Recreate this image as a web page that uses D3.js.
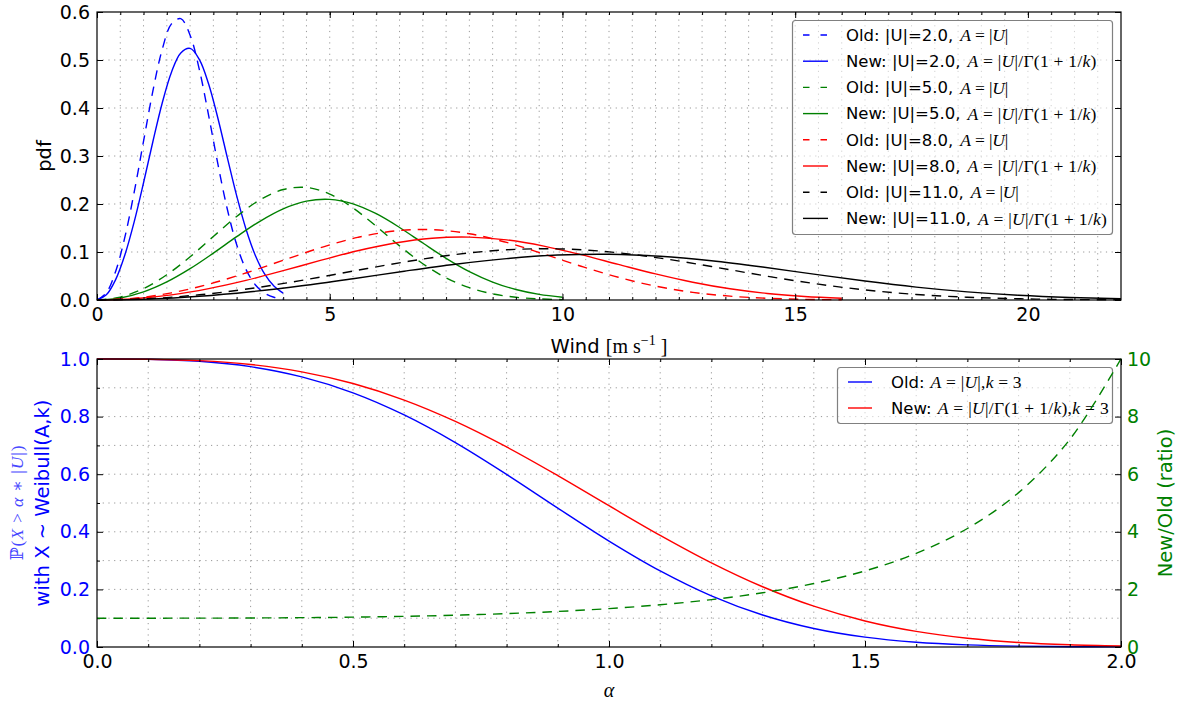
<!DOCTYPE html>
<html lang="en">
<head>
    <meta charset="UTF-8">
    <title>Weibull wind pdf, old vs new scale</title>
    <script src="https://d3js.org/d3.v7.min.js"></script>
    <style>
        body { margin: 0; background: #fff; }
        svg text { font-family: "DejaVu Sans", sans-serif; white-space: pre; }
        .math { font-family: "Liberation Serif", "DejaVu Serif", serif; }
    </style>
</head>
<body>
<script>
    var w = 1182;
    var h = 704;

    // ---- top panel: wind pdfs ----
    var speeds = [2, 5, 8, 11];
    var colors = ["#0000ff", "#008000", "#ff0000", "#000000"];

    var windU2 = [0, 0.2, 0.4, 0.6, 0.8, 1.0, 1.2, 1.4, 1.6, 1.8, 2.0, 2.2, 2.4, 2.6, 2.8, 3.0, 3.2, 3.4, 3.6, 3.8, 4.0];
    var windU5 = [0, 0.5, 1.0, 1.5, 2.0, 2.5, 3.0, 3.5, 4.0, 4.5, 5.0, 5.5, 6.0, 6.5, 7.0, 7.5, 8.0, 8.5, 9.0, 9.5, 10.0];
    var windU8 = [0, 0.8, 1.6, 2.4, 3.2, 4.0, 4.8, 5.6, 6.4, 7.2, 8.0, 8.8, 9.6, 10.4, 11.2, 12.0, 12.8, 13.6, 14.4, 15.2, 16.0];
    var windU11 = [0, 1.1, 2.2, 3.3, 4.4, 5.5, 6.6, 7.7, 8.8, 9.9, 11.0, 12.1, 13.2, 14.3, 15.4, 16.5, 17.6, 18.7, 19.8, 20.9, 22.0];

    var oldPdfU2 = [0, 0.0150, 0.0595, 0.1314, 0.2251, 0.3309, 0.4351, 0.5216, 0.5753, 0.5861, 0.5518, 0.4796, 0.3837, 0.2818, 0.1890, 0.1155, 0.0639, 0.0319, 0.0143, 0.0057, 0.0020];
    var newPdfU2 = [0, 0.0107, 0.0425, 0.0943, 0.1633, 0.2443, 0.3297, 0.4100, 0.4747, 0.5148, 0.5241, 0.5009, 0.4494, 0.3776, 0.2966, 0.2173, 0.1480, 0.0934, 0.0544, 0.0292, 0.0143];
    var oldPdfU5 = [0, 0.0060, 0.0238, 0.0526, 0.0900, 0.1324, 0.1740, 0.2086, 0.2301, 0.2345, 0.2207, 0.1918, 0.1535, 0.1127, 0.0756, 0.0462, 0.0256, 0.0127, 0.0057, 0.0023, 0.0008];
    var newPdfU5 = [0, 0.0043, 0.0170, 0.0377, 0.0653, 0.0977, 0.1319, 0.1640, 0.1899, 0.2059, 0.2096, 0.2004, 0.1797, 0.1511, 0.1187, 0.0869, 0.0592, 0.0374, 0.0218, 0.0117, 0.0057];
    var oldPdfU8 = [0, 0.0037, 0.0149, 0.0329, 0.0563, 0.0827, 0.1088, 0.1304, 0.1438, 0.1465, 0.1380, 0.1199, 0.0959, 0.0704, 0.0473, 0.0289, 0.0160, 0.0080, 0.0036, 0.0014, 0.0005];
    var newPdfU8 = [0, 0.0027, 0.0106, 0.0236, 0.0408, 0.0611, 0.0824, 0.1025, 0.1187, 0.1287, 0.1310, 0.1252, 0.1123, 0.0944, 0.0742, 0.0543, 0.0370, 0.0233, 0.0136, 0.0073, 0.0036];
    var oldPdfU11 = [0, 0.0027, 0.0108, 0.0239, 0.0409, 0.0602, 0.0791, 0.0948, 0.1046, 0.1066, 0.1003, 0.0872, 0.0698, 0.0512, 0.0344, 0.0210, 0.0116, 0.0058, 0.0026, 0.0010, 0.0004];
    var newPdfU11 = [0, 0.0019, 0.0077, 0.0172, 0.0297, 0.0444, 0.0600, 0.0745, 0.0863, 0.0936, 0.0953, 0.0911, 0.0817, 0.0687, 0.0539, 0.0395, 0.0269, 0.0170, 0.0099, 0.0053, 0.0026];

    var windXs = [windU2, windU5, windU8, windU11];
    var oldPdfs = [oldPdfU2, oldPdfU5, oldPdfU8, oldPdfU11];
    var newPdfs = [newPdfU2, newPdfU5, newPdfU8, newPdfU11];

    var topXTicks = [0, 5, 10, 15, 20];
    var topYTicks = [0, 0.1, 0.2, 0.3, 0.4, 0.5, 0.6];

    // ---- bottom panel: exceedance probability and ratio ----
    var alphas = [0, 0.1, 0.2, 0.3, 0.4, 0.5, 0.6, 0.7, 0.8, 0.9, 1.0, 1.1, 1.2, 1.3, 1.4, 1.5, 1.6, 1.7, 1.8, 1.9, 2.0];
    var probOld = [1, 0.9990, 0.9920, 0.9734, 0.9380, 0.8825, 0.8057, 0.7097, 0.5993, 0.4824, 0.3679, 0.2642, 0.1776, 0.1111, 0.0643, 0.0342, 0.0166, 0.0074, 0.0029, 0.0011, 0.0003];
    var probNew = [1, 0.9993, 0.9943, 0.9810, 0.9555, 0.9148, 0.8574, 0.7833, 0.6945, 0.5951, 0.4906, 0.3876, 0.2922, 0.2092, 0.1417, 0.0904, 0.0541, 0.0303, 0.0157, 0.0076, 0.0034];
    var ratioNewOld = [1, 1.0003, 1.0023, 1.0078, 1.0186, 1.0366, 1.0642, 1.1038, 1.1588, 1.2336, 1.3337, 1.4670, 1.6447, 1.8824, 2.2036, 2.6426, 3.2522, 4.1148, 5.3612, 7.2063, 10.008];

    var botXTicks = [0, 0.5, 1.0, 1.5, 2.0];
    var botYTicks = [0, 0.2, 0.4, 0.6, 0.8, 1.0];
    var ratioTicks = [0, 2, 4, 6, 8, 10];

    // math pieces: [text, italic]
    var mathOld = [["A", 1], [" = ", 0], ["|", 0], ["U", 1], ["|", 0]];
    var mathNew = mathOld.concat([["/Γ(1 + 1/", 0], ["k", 1], [")", 0]]);
    var mathK3 = [[",", 0], ["k", 1], [" = 3", 0]];

    var tickSize = 19;
    var labelSize = 19.5;
    var legendSize = 16.5;
    var mathSize = 17.5;

    var svg = d3.select("body")
        .append("svg")
        .attr("width", w)
        .attr("height", h);

    var x1 = d3.scaleLinear().domain([0, 22]).range([97, 1121]);
    var y1 = d3.scaleLinear().domain([0, 0.6]).range([300, 12]);
    var x2 = d3.scaleLinear().domain([0, 2]).range([97, 1121]);
    var y2 = d3.scaleLinear().domain([0, 1]).range([647, 359]);
    var y2r = d3.scaleLinear().domain([0, 10]).range([647, 359]);

    var dashMain = "9.5,7";

    function addMath(sel, parts, size) {
        parts.forEach(function(p) {
            sel.append("tspan")
                .attr("font-style", p[1] ? "italic" : "normal")
                .text(p[0]);
        });
        sel.attr("class", "math").attr("font-size", size);
        return sel;
    }

    function grid(g, xs, ys, xScale, yScale) {
        var x0 = xScale.range()[0], xEnd = xScale.range()[1];
        var y0 = yScale.range()[0], yEnd = yScale.range()[1];
        g.selectAll(".gv").data(xs).enter().append("line")
            .attr("x1", function(d) { return xScale(d); })
            .attr("x2", function(d) { return xScale(d); })
            .attr("y1", y0).attr("y2", yEnd)
            .attr("stroke", "#999").attr("stroke-width", 1).attr("stroke-dasharray", "1.2,4.5");
        g.selectAll(".gh").data(ys).enter().append("line")
            .attr("y1", function(d) { return yScale(d); })
            .attr("y2", function(d) { return yScale(d); })
            .attr("x1", x0).attr("x2", xEnd)
            .attr("stroke", "#999").attr("stroke-width", 1).attr("stroke-dasharray", "1.2,4.5");
    }

    function styleAxis(sel, color) {
        sel.attr("font-family", null).attr("font-size", null);
        sel.select(".domain").remove();
        sel.selectAll("line").attr("stroke", "#000");
        sel.selectAll("text").attr("fill", color).attr("font-size", tickSize);
    }

    // ================= TOP PANEL =================
    var topPanel = svg.append("g");

    grid(topPanel.append("g"), d3.range(0.5, 22, 0.5), [0.1, 0.2, 0.3, 0.4, 0.5], x1, y1);

    var pdfLine = d3.line()
        .x(function(d) { return x1(d[0]); })
        .y(function(d) { return y1(d[1]); })
        .curve(d3.curveCatmullRom.alpha(0.5));

    speeds.forEach(function(u, i) {
        var xs = windXs[i];
        topPanel.append("path")
            .datum(xs.map(function(x, j) { return [x, oldPdfs[i][j]]; }))
            .attr("d", pdfLine)
            .attr("fill", "none")
            .attr("stroke", colors[i])
            .attr("stroke-width", 1.4)
            .attr("stroke-dasharray", dashMain);
        topPanel.append("path")
            .datum(xs.map(function(x, j) { return [x, newPdfs[i][j]]; }))
            .attr("d", pdfLine)
            .attr("fill", "none")
            .attr("stroke", colors[i])
            .attr("stroke-width", 1.4);
    });

    // axes (ticks pointing inward, all four sides)
    topPanel.append("g").attr("transform", "translate(0,300)")
        .call(d3.axisBottom(x1).tickValues(topXTicks).tickSize(-6).tickPadding(8).tickFormat(d3.format("d")))
        .call(styleAxis, "#000");
    topPanel.append("g").attr("transform", "translate(0,300)")
        .call(d3.axisBottom(x1).tickValues(d3.range(0.5, 22, 0.5)).tickSize(-3).tickFormat(""))
        .call(styleAxis, "#000");
    topPanel.append("g").attr("transform", "translate(0,12)")
        .call(d3.axisTop(x1).tickValues(topXTicks).tickSize(-6).tickFormat(""))
        .call(styleAxis, "#000");
    topPanel.append("g").attr("transform", "translate(0,12)")
        .call(d3.axisTop(x1).tickValues(d3.range(0.5, 22, 0.5)).tickSize(-3).tickFormat(""))
        .call(styleAxis, "#000");
    topPanel.append("g").attr("transform", "translate(97,0)")
        .call(d3.axisLeft(y1).tickValues(topYTicks).tickSize(-6).tickPadding(7).tickFormat(d3.format(".1f")))
        .call(styleAxis, "#000");
    topPanel.append("g").attr("transform", "translate(1121,0)")
        .call(d3.axisRight(y1).tickValues(topYTicks).tickSize(-6).tickFormat(""))
        .call(styleAxis, "#000");

    topPanel.append("rect")
        .attr("x", 97).attr("y", 12).attr("width", 1024).attr("height", 288)
        .attr("fill", "none").attr("stroke", "#000").attr("stroke-width", 1.2);

    topPanel.append("text")
        .attr("transform", "translate(51,156) rotate(-90)")
        .attr("text-anchor", "middle")
        .attr("font-size", labelSize)
        .text("pdf");

    var windLabel = topPanel.append("text")
        .attr("x", 609).attr("y", 353)
        .attr("text-anchor", "middle")
        .attr("font-size", labelSize);
    windLabel.append("tspan").text("Wind ");
    windLabel.append("tspan").attr("class", "math").attr("font-size", 20).text("[m s");
    windLabel.append("tspan").attr("class", "math").attr("font-size", 14).attr("dy", -8).text("−1");
    windLabel.append("tspan").attr("class", "math").attr("font-size", 20).attr("dy", 8).text(" ]");

    // legend
    var legTop = topPanel.append("g");
    legTop.append("rect")
        .attr("x", 792.5).attr("y", 20.5).attr("width", 320).attr("height", 214).attr("rx", 3)
        .attr("fill", "#fff").attr("fill-opacity", 0.55)
        .attr("stroke", "#808080").attr("stroke-width", 1.2);

    speeds.forEach(function(u, i) {
        ["Old", "New"].forEach(function(kind, j) {
            var y = 35 + (2 * i + j) * 26.2;
            legTop.append("line")
                .attr("x1", 803).attr("x2", 828).attr("y1", y).attr("y2", y)
                .attr("stroke", colors[i]).attr("stroke-width", 1.4)
                .attr("stroke-dasharray", j === 0 ? "6.5,11" : null);
            var t = legTop.append("text")
                .attr("x", 846).attr("y", y).attr("dy", "0.35em")
                .attr("font-size", legendSize)
                .text(kind + ": |U|=" + d3.format(".1f")(u) + ",");
            var tw = t.node().getComputedTextLength();
            var m = legTop.append("text")
                .attr("x", 846 + tw + 7).attr("y", y).attr("dy", "0.35em");
            addMath(m, j === 0 ? mathOld : mathNew, mathSize);
            m.attr("textLength", j === 0 ? 48 : 129).attr("lengthAdjust", "spacing");
        });
    });

    // ================= BOTTOM PANEL =================
    var botPanel = svg.append("g");

    grid(botPanel.append("g"), d3.range(0.1, 2, 0.1), d3.range(0.1, 1, 0.1), x2, y2);

    var probLine = d3.line()
        .x(function(d) { return x2(d[0]); })
        .y(function(d) { return y2(d[1]); })
        .curve(d3.curveCatmullRom.alpha(0.5));
    var ratioLine = d3.line()
        .x(function(d) { return x2(d[0]); })
        .y(function(d) { return y2r(d[1]); })
        .curve(d3.curveCatmullRom.alpha(0.5));

    botPanel.append("path")
        .datum(alphas.map(function(a, j) { return [a, probOld[j]]; }))
        .attr("d", probLine)
        .attr("fill", "none").attr("stroke", "#0000ff").attr("stroke-width", 1.4);
    botPanel.append("path")
        .datum(alphas.map(function(a, j) { return [a, probNew[j]]; }))
        .attr("d", probLine)
        .attr("fill", "none").attr("stroke", "#ff0000").attr("stroke-width", 1.4);

    botPanel.append("g").attr("transform", "translate(0,647)")
        .call(d3.axisBottom(x2).tickValues(botXTicks).tickSize(-6).tickPadding(8).tickFormat(d3.format(".1f")))
        .call(styleAxis, "#000");
    botPanel.append("g").attr("transform", "translate(0,647)")
        .call(d3.axisBottom(x2).tickValues(d3.range(0.1, 2, 0.1)).tickSize(-3).tickFormat(""))
        .call(styleAxis, "#000");
    botPanel.append("g").attr("transform", "translate(0,359)")
        .call(d3.axisTop(x2).tickValues(botXTicks).tickSize(-6).tickFormat(""))
        .call(styleAxis, "#000");
    botPanel.append("g").attr("transform", "translate(0,359)")
        .call(d3.axisTop(x2).tickValues(d3.range(0.1, 2, 0.1)).tickSize(-3).tickFormat(""))
        .call(styleAxis, "#000");
    botPanel.append("g").attr("transform", "translate(97,0)")
        .call(d3.axisLeft(y2).tickValues(botYTicks).tickSize(-6).tickPadding(7).tickFormat(d3.format(".1f")))
        .call(styleAxis, "#0000ff");
    botPanel.append("g").attr("transform", "translate(97,0)")
        .call(d3.axisLeft(y2).tickValues(d3.range(0.1, 1, 0.2)).tickSize(-3).tickFormat(""))
        .call(styleAxis, "#000");
    botPanel.append("g").attr("transform", "translate(1121,0)")
        .call(d3.axisRight(y2r).tickValues(ratioTicks).tickSize(-6).tickPadding(6).tickFormat(d3.format("d")))
        .call(styleAxis, "#008000");

    // legend (drawn below the ratio curve, as in the twin axes)
    var legBot = botPanel.append("g");
    legBot.append("rect")
        .attr("x", 837.5).attr("y", 367.5).attr("width", 275).attr("height", 56).attr("rx", 3)
        .attr("fill", "#fff").attr("fill-opacity", 0.55)
        .attr("stroke", "#808080").attr("stroke-width", 1.2);
    [["Old:", "#0000ff", mathOld.concat(mathK3), 91], ["New:", "#ff0000", mathNew.concat(mathK3), 171]].forEach(function(e, j) {
        var y = 382 + j * 26;
        legBot.append("line")
            .attr("x1", 848).attr("x2", 872).attr("y1", y).attr("y2", y)
            .attr("stroke", e[1]).attr("stroke-width", 1.4);
        var t = legBot.append("text")
            .attr("x", 891).attr("y", y).attr("dy", "0.35em")
            .attr("font-size", legendSize)
            .text(e[0]);
        var tw = t.node().getComputedTextLength();
        var m = legBot.append("text")
            .attr("x", 891 + tw + 6).attr("y", y).attr("dy", "0.35em");
        addMath(m, e[2], mathSize);
        m.attr("textLength", e[3]).attr("lengthAdjust", "spacing");
    });

    botPanel.append("path")
        .datum(alphas.map(function(a, j) { return [a, ratioNewOld[j]]; }))
        .attr("d", ratioLine)
        .attr("fill", "none").attr("stroke", "#008000").attr("stroke-width", 1.4)
        .attr("stroke-dasharray", dashMain);

    botPanel.append("rect")
        .attr("x", 97).attr("y", 359).attr("width", 1024).attr("height", 288)
        .attr("fill", "none").attr("stroke", "#000").attr("stroke-width", 1.2);

    var alphaLabel = botPanel.append("text")
        .attr("x", 609).attr("y", 697)
        .attr("text-anchor", "middle");
    addMath(alphaLabel, [["α", 1]], 20);

    var pLabel = botPanel.append("text")
        .attr("transform", "translate(23,503) rotate(-90)")
        .attr("text-anchor", "middle")
        .attr("fill", "#4848ff");
    addMath(pLabel, [["ℙ", 0], ["(", 0], ["X", 1], [" > ", 0], ["α", 1], [" ∗ ", 0], ["|", 0], ["U", 1], ["|)", 0]], 17.5);
    pLabel.attr("textLength", 115).attr("lengthAdjust", "spacing");

    botPanel.append("text")
        .attr("transform", "translate(49,503) rotate(-90)")
        .attr("text-anchor", "middle")
        .attr("font-size", labelSize)
        .attr("fill", "#0000ff")
        .text("with X ~ Weibull(A,k)");

    botPanel.append("text")
        .attr("transform", "translate(1172,503) rotate(-90)")
        .attr("text-anchor", "middle")
        .attr("font-size", labelSize)
        .attr("fill", "#008000")
        .text("New/Old (ratio)");
</script>
</body>
</html>
